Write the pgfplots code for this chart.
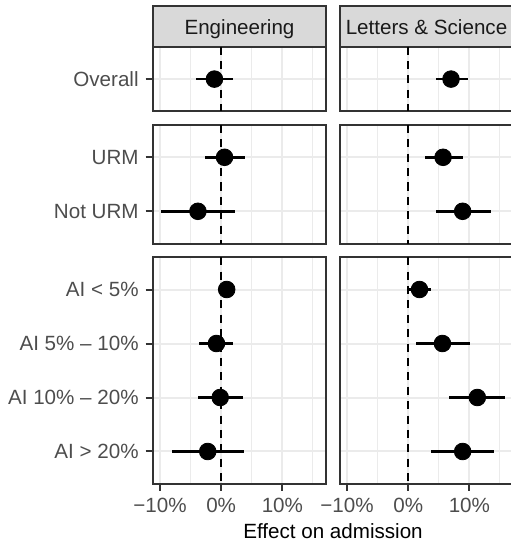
\documentclass[border=0pt]{standalone}
\usepackage{fontspec}
\setmainfont{Liberation Sans}
\usepackage{pgfplots}
\pgfplotsset{compat=1.18}
\usepackage{pgfplotstable}

\definecolor{gray10}{HTML}{1A1A1A}
\definecolor{gray20}{HTML}{333333}
\definecolor{gray30}{HTML}{4D4D4D}
\definecolor{gray85}{HTML}{D9D9D9}
\definecolor{gray92}{HTML}{EBEBEB}

\newcommand{\ff}{\fontsize{10.3pt}{12pt}\selectfont}

% estimates with interval bounds, in percentage points
\pgfplotstableread{
y est lo hi
1 -1.1 -4.1 2.0
}\engOverall
\pgfplotstableread{
y est lo hi
1 7.0 4.5 9.8
}\lsOverall
\pgfplotstableread{
y est lo hi
1 0.55 -2.7 3.9
2 -3.8 -9.85 2.2
}\engURM
\pgfplotstableread{
y est lo hi
1 5.7 2.7 8.9
2 8.9 4.5 13.5
}\lsURM
\pgfplotstableread{
y est lo hi
1 0.9 0.2 1.6
2 -0.77 -3.6 2.0
3 -0.16 -3.8 3.5
4 -2.2 -8.1 3.8
}\engAI
\pgfplotstableread{
y est lo hi
1 1.85 -0.15 3.8
2 5.6 1.26 10.1
3 11.3 6.65 15.8
4 8.9 3.7 14.1
}\lsAI

\pgfplotsset{
  facet/.style={
    scale only axis, width=86.8pt,
    xmin=-11.19, xmax=17.18,
    xtick={-10,0,10}, minor xtick={-5,5,15},
    y dir=reverse, ymin=0.4,
    grid=both,
    major grid style={gray92, line width=1pt},
    minor grid style={gray92, line width=0.5pt},
    axis line style={gray20, line width=1pt},
    tick align=outside, major tick length=3.5pt, minor tick length=0pt,
    tick style={gray20, line width=1pt},
    tick label style={font=\ff, text=gray30},
    xtick pos=bottom, ytick pos=left,
    anchor=north west,
  },
  notbottom/.style={xticklabels={}, xtick style={draw=none}},
  bottom/.style={xticklabels={−10\%,0\%,10\%}},
  notleft/.style={yticklabels={}, ytick style={draw=none}},
  zeroline/.style={black, line width=1pt, dash pattern=on 4pt off 3.2pt, forget plot},
  est/.style={only marks, black, mark=*, mark size=4.17pt,
    mark options={draw=none, fill=black},
    error bars/.cd, x dir=both, x explicit, error mark=none,
    error bar style={line width=1.35pt, black}},
}

\newcommand{\estplot}[1]{%
  \addplot[est] table[x=est, y=y,
    x error plus expr=\thisrow{hi}-\thisrow{est},
    x error minus expr=\thisrow{est}-\thisrow{lo}] {#1};}

\begin{document}
\begin{tikzpicture}
% facet strips
\foreach \cx/\lab in {76.35/Engineering, 169.85/{Letters \& Science}} {
  \draw[fill=gray85, draw=gray20, line width=1pt] (\cx pt,-3pt) rectangle ++(86.8pt,-20.35pt);
  \node[anchor=base, text=gray10, font=\ff, inner sep=0pt] at (\cx pt+43.4pt,-17.5pt) {\lab};
}

% row 1: overall
\begin{axis}[facet, notbottom, at={(76.35pt,-23.35pt)}, height=32.4pt,
  ymax=1.6, ytick={1}, yticklabels={Overall}]
  \addplot[zeroline] coordinates {(0,0.4) (0,1.6)};
  \estplot{\engOverall}
\end{axis}
\begin{axis}[facet, notbottom, notleft, at={(169.85pt,-23.35pt)}, height=32.4pt,
  ymax=1.6, ytick={1}]
  \addplot[zeroline] coordinates {(0,0.4) (0,1.6)};
  \estplot{\lsOverall}
\end{axis}

% row 2: URM status
\begin{axis}[facet, notbottom, at={(76.35pt,-62.45pt)}, height=59.4pt,
  ymax=2.6, ytick={1,2}, yticklabels={URM, Not URM}]
  \addplot[zeroline] coordinates {(0,0.4) (0,2.6)};
  \estplot{\engURM}
\end{axis}
\begin{axis}[facet, notbottom, notleft, at={(169.85pt,-62.45pt)}, height=59.4pt,
  ymax=2.6, ytick={1,2}]
  \addplot[zeroline] coordinates {(0,0.4) (0,2.6)};
  \estplot{\lsURM}
\end{axis}

% row 3: AI share
\begin{axis}[facet, bottom, at={(76.35pt,-128.55pt)}, height=113.4pt,
  ymax=4.6, ytick={1,2,3,4},
  yticklabels={AI < 5\%, AI 5\% -- 10\%, AI 10\% -- 20\%, AI > 20\%}]
  \addplot[zeroline] coordinates {(0,0.4) (0,4.6)};
  \estplot{\engAI}
\end{axis}
\begin{axis}[facet, bottom, notleft, at={(169.85pt,-128.55pt)}, height=113.4pt,
  ymax=4.6, ytick={1,2,3,4}]
  \addplot[zeroline] coordinates {(0,0.4) (0,4.6)};
  \estplot{\lsAI}
\end{axis}

\node[anchor=base, font=\ff, text=black, inner sep=0pt] at (166.5pt,-269.15pt) {Effect on admission};

\pgfresetboundingbox
\useasboundingbox (0,0) rectangle (255pt,-272pt);
\end{tikzpicture}
\end{document}
